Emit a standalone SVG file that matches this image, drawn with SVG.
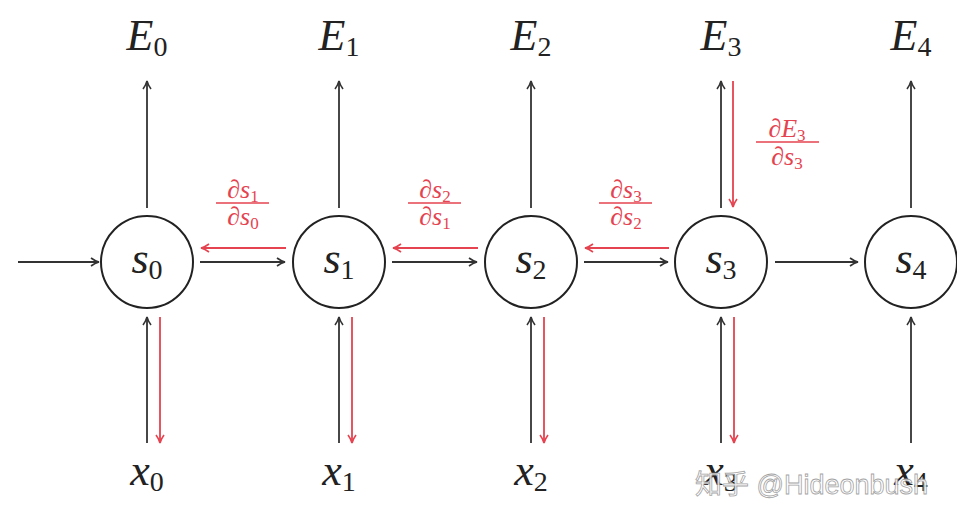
<svg xmlns="http://www.w3.org/2000/svg" width="957" height="516" viewBox="0 0 957 516">
<defs>
<style>
.k{stroke:#333;stroke-width:1.8;fill:none}
.r{stroke:#e5434f;stroke-width:1.8;fill:none}
.node{stroke:#222;stroke-width:2;fill:#fff}
.v{font-family:"Liberation Serif","DejaVu Serif",serif;font-style:italic;font-size:44px;fill:#222}
.sub{font-family:"Liberation Serif","DejaVu Serif",serif;font-style:normal;font-size:28px}
.f{font-family:"Liberation Serif","DejaVu Serif",serif;font-style:italic;font-size:26px;fill:#e5434f}
.fs{font-style:normal;font-size:17px}
.bar{stroke:#e5434f;stroke-width:1.6}
.wm{font-family:"Liberation Sans","Noto Sans CJK SC",sans-serif;font-size:27px;fill:#fff;stroke:#999;stroke-width:0.8;opacity:0.9}
</style>
<marker id="ak" viewBox="0 0 10 10" refX="9" refY="5" markerWidth="10" markerHeight="10" markerUnits="userSpaceOnUse" orient="auto"><path d="M1,1 Q5,4 9,5 Q5,6 1,9" stroke="#333" stroke-width="1.6" fill="none"/></marker>
<marker id="ar" viewBox="0 0 10 10" refX="9" refY="5" markerWidth="10" markerHeight="10" markerUnits="userSpaceOnUse" orient="auto"><path d="M1,1 Q5,4 9,5 Q5,6 1,9" stroke="#e5434f" stroke-width="1.6" fill="none"/></marker>
</defs>
<rect width="957" height="516" fill="#fff"/>
<g id="connectors">
<line class="k" x1="18" y1="262" x2="99" y2="262" marker-end="url(#ak)"/>
<line class="k" x1="200" y1="262" x2="285" y2="262" marker-end="url(#ak)"/>
<line class="k" x1="392" y1="262" x2="477" y2="262" marker-end="url(#ak)"/>
<line class="k" x1="584" y1="262" x2="668" y2="262" marker-end="url(#ak)"/>
<line class="k" x1="775" y1="262" x2="858" y2="262" marker-end="url(#ak)"/>
<line class="r" x1="286" y1="248" x2="201" y2="248" marker-end="url(#ar)"/>
<line class="r" x1="478" y1="248" x2="393" y2="248" marker-end="url(#ar)"/>
<line class="r" x1="669" y1="248" x2="585" y2="248" marker-end="url(#ar)"/>
<line class="k" x1="147" y1="208" x2="147" y2="81" marker-end="url(#ak)"/>
<line class="k" x1="339" y1="208" x2="339" y2="81" marker-end="url(#ak)"/>
<line class="k" x1="531" y1="208" x2="531" y2="81" marker-end="url(#ak)"/>
<line class="k" x1="721" y1="208" x2="721" y2="81" marker-end="url(#ak)"/>
<line class="k" x1="911" y1="208" x2="911" y2="81" marker-end="url(#ak)"/>
<line class="r" x1="733" y1="81" x2="733" y2="207" marker-end="url(#ar)"/>
<line class="k" x1="147" y1="443" x2="147" y2="317" marker-end="url(#ak)"/>
<line class="k" x1="339" y1="443" x2="339" y2="317" marker-end="url(#ak)"/>
<line class="k" x1="531" y1="443" x2="531" y2="317" marker-end="url(#ak)"/>
<line class="k" x1="721" y1="443" x2="721" y2="317" marker-end="url(#ak)"/>
<line class="k" x1="911" y1="443" x2="911" y2="317" marker-end="url(#ak)"/>
<line class="r" x1="160" y1="317" x2="160" y2="443" marker-end="url(#ar)"/>
<line class="r" x1="352" y1="317" x2="352" y2="443" marker-end="url(#ar)"/>
<line class="r" x1="544" y1="317" x2="544" y2="443" marker-end="url(#ar)"/>
<line class="r" x1="734" y1="317" x2="734" y2="443" marker-end="url(#ar)"/>
</g>
<g id="grad01">
<text class="f" x="243" y="198" text-anchor="middle">∂s<tspan class="fs" dy="4">1</tspan></text>
<line class="bar" x1="216" y1="203" x2="269" y2="203"/>
<text class="f" x="243" y="225" text-anchor="middle">∂s<tspan class="fs" dy="4">0</tspan></text>
</g>
<g id="grad12">
<text class="f" x="435" y="198" text-anchor="middle">∂s<tspan class="fs" dy="4">2</tspan></text>
<line class="bar" x1="408" y1="203" x2="461" y2="203"/>
<text class="f" x="435" y="225" text-anchor="middle">∂s<tspan class="fs" dy="4">1</tspan></text>
</g>
<g id="grad23">
<text class="f" x="626" y="198" text-anchor="middle">∂s<tspan class="fs" dy="4">3</tspan></text>
<line class="bar" x1="599" y1="203" x2="652" y2="203"/>
<text class="f" x="626" y="225" text-anchor="middle">∂s<tspan class="fs" dy="4">2</tspan></text>
</g>
<g id="gradE3">
<text class="f" x="787" y="137" text-anchor="middle">∂E<tspan class="fs" dy="4">3</tspan></text>
<line class="bar" x1="756" y1="142" x2="819" y2="142"/>
<text class="f" x="787" y="165" text-anchor="middle">∂s<tspan class="fs" dy="4">3</tspan></text>
</g>
<g id="s0"><circle class="node" cx="147" cy="262" r="46"/><text class="v" x="147" y="273" text-anchor="middle">s<tspan class="sub" dy="6">0</tspan></text></g>
<g id="s1"><circle class="node" cx="339" cy="262" r="46"/><text class="v" x="339" y="273" text-anchor="middle">s<tspan class="sub" dy="6">1</tspan></text></g>
<g id="s2"><circle class="node" cx="531" cy="262" r="46"/><text class="v" x="531" y="273" text-anchor="middle">s<tspan class="sub" dy="6">2</tspan></text></g>
<g id="s3"><circle class="node" cx="721" cy="262" r="46"/><text class="v" x="721" y="273" text-anchor="middle">s<tspan class="sub" dy="6">3</tspan></text></g>
<g id="s4"><circle class="node" cx="911" cy="262" r="46"/><text class="v" x="911" y="273" text-anchor="middle">s<tspan class="sub" dy="6">4</tspan></text></g>
<g id="E0"><text class="v" x="147" y="50" text-anchor="middle">E<tspan class="sub" dy="6">0</tspan></text></g>
<g id="E1"><text class="v" x="339" y="50" text-anchor="middle">E<tspan class="sub" dy="6">1</tspan></text></g>
<g id="E2"><text class="v" x="531" y="50" text-anchor="middle">E<tspan class="sub" dy="6">2</tspan></text></g>
<g id="E3"><text class="v" x="721" y="50" text-anchor="middle">E<tspan class="sub" dy="6">3</tspan></text></g>
<g id="E4"><text class="v" x="911" y="50" text-anchor="middle">E<tspan class="sub" dy="6">4</tspan></text></g>
<g id="x0"><text class="v" x="147" y="485" text-anchor="middle">x<tspan class="sub" dy="6">0</tspan></text></g>
<g id="x1"><text class="v" x="339" y="485" text-anchor="middle">x<tspan class="sub" dy="6">1</tspan></text></g>
<g id="x2"><text class="v" x="531" y="485" text-anchor="middle">x<tspan class="sub" dy="6">2</tspan></text></g>
<g id="x3"><text class="v" x="721" y="485" text-anchor="middle">x<tspan class="sub" dy="6">3</tspan></text></g>
<g id="x4"><text class="v" x="911" y="485" text-anchor="middle">x<tspan class="sub" dy="6">4</tspan></text></g>
<text class="wm" x="695" y="494">知乎 @Hideonbush</text>
</svg>
